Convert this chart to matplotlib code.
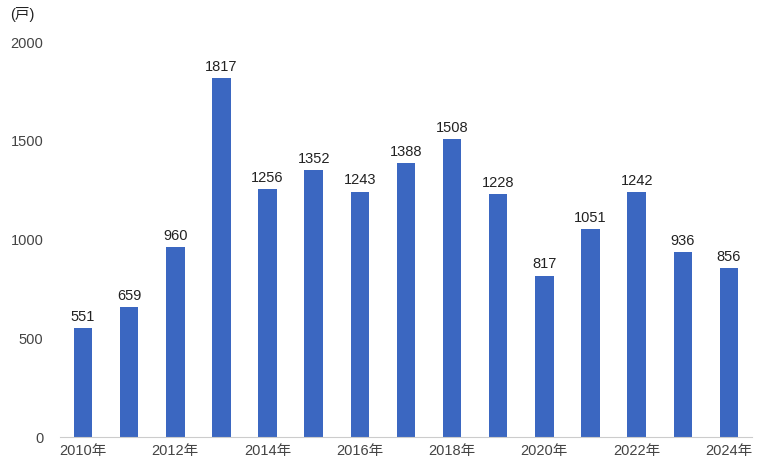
import matplotlib
matplotlib.use("Agg")
from matplotlib import pyplot as plt

plt.rcParams['font.family'] = ['Liberation Sans', 'Noto Sans CJK JP', 'DejaVu Sans']

# data
years = list(range(2010, 2025))
values = [551, 659, 960, 1817, 1256, 1352, 1243, 1388, 1508, 1228, 817, 1051, 1242, 936, 856]
tick_labels = [f"{y}年" if y % 2 == 0 else "" for y in years]

fig = plt.figure(figsize=(7.65, 4.7), dpi=100)
ax = fig.add_axes([0.0784, 0.0702, 0.9046, 0.8404])

pos = list(range(len(years)))
bars = ax.bar(pos, values, width=0.4, color='#3b67c1', zorder=2)

# value labels on top of bars
for p, v in zip(pos, values):
    ax.annotate(str(v), (p, v), textcoords="offset points", xytext=(0, 3),
                ha='center', va='bottom', fontsize=10.5, color='#222222')

ax.set_xlim(-0.5, len(years) - 0.5)
ax.set_ylim(0, 2000)
ax.set_yticks([0, 500, 1000, 1500, 2000])
ax.set_xticks(pos)
ax.set_xticklabels(tick_labels)
ax.tick_params(axis='both', length=0, labelsize=10.5, colors='#444444')
ax.tick_params(axis='y', pad=12)
ax.tick_params(axis='x', pad=5)

for side in ['left', 'right', 'top']:
    ax.spines[side].set_visible(False)
ax.spines['bottom'].set_color('#cccccc')

fig.text(10 / 765, 1 - 15 / 470, "(戸)", fontsize=10.5, color='#222222', va='center', ha='left')

fig.savefig('out.png', dpi=100)
